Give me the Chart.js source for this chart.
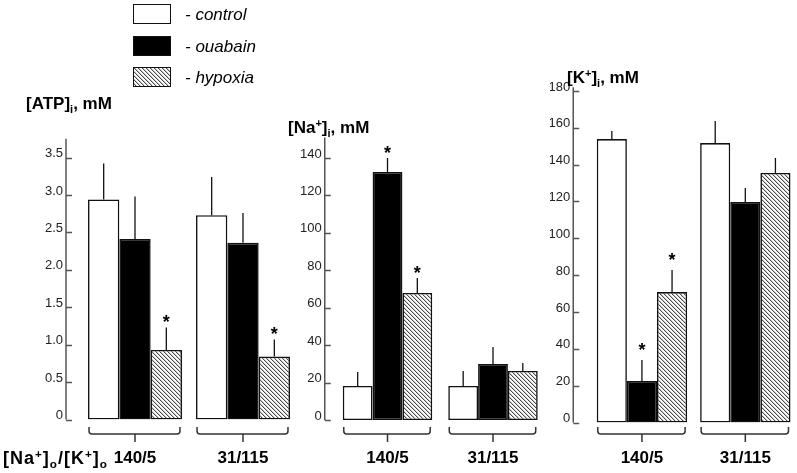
<!DOCTYPE html>
<html>
<head>
  <title>ATP, Na and K under ouabain and hypoxia</title>
  <script src="https://cdn.jsdelivr.net/npm/chart.js"></script>
  <style>
    body { margin: 0; background: #fff; font-family: "Liberation Sans", Arial, sans-serif; }
    #wrap { position: relative; width: 797px; height: 473px; overflow: hidden; }
    canvas { position: absolute; top: 0; }
    .txt { position: absolute; white-space: nowrap; line-height: 20px; color: #000; }
    .ttl { font-weight: bold; font-size: 17px; }
    .leg { font-style: italic; font-size: 17px; }
    .box { position: absolute; width: 36px; height: 18px; border: 1.5px solid #111; background: #fff; }
    .sub { font-size: 0.65em; position: relative; top: 0.35em; }
    .sup { font-size: 0.65em; position: relative; top: -0.55em; }
  </style>
</head>
<body>
<div id="wrap">
  <canvas id="atp" width="300" height="473" style="left:0px"></canvas>
  <canvas id="na" width="250" height="473" style="left:300px"></canvas>
  <canvas id="k" width="247" height="473" style="left:550px"></canvas>

  <!-- legend -->
  <div class="box" style="left:133px;top:4px"></div>
  <div class="box" style="left:133px;top:36px;background:#000"></div>
  <div class="box" id="hatchBox" style="left:133px;top:67px"></div>
  <div class="txt leg" style="left:185px;top:5px">- control</div>
  <div class="txt leg" style="left:185px;top:37px">- ouabain</div>
  <div class="txt leg" style="left:185px;top:68px">- hypoxia</div>

  <!-- axis titles -->
  <div class="txt ttl" style="left:26px;top:94px">[ATP]<span class="sub">i</span>, mM</div>
  <div class="txt ttl" style="left:288px;top:118px">[Na<span class="sup">+</span>]<span class="sub">i</span>, mM</div>
  <div class="txt ttl" style="left:567px;top:68px">[K<span class="sup">+</span>]<span class="sub">i</span>, mM</div>
  <div class="txt ttl" style="left:3px;top:448px;font-size:18px;letter-spacing:1px">[Na<span class="sup">+</span>]<span class="sub">o</span>/[K<span class="sup">+</span>]<span class="sub">o</span></div>
</div>

<script>
// groups: external [Na+]o/[K+]o
const groups = ['140/5', '31/115'];
const seriesNames = ['control', 'ouabain', 'hypoxia'];

// [ATP]i, mM
const atpControl = [2.94, 2.73];
const atpOuabain = [2.41, 2.36];
const atpHypoxia = [0.93, 0.84];
const atpControlErr = [0.48, 0.51];
const atpOuabainErr = [0.57, 0.40];
const atpHypoxiaErr = [0.30, 0.23];
const atpTicks = [0, 0.5, 1.0, 1.5, 2.0, 2.5, 3.0, 3.5];

// [Na+]i, mM
const naControl = [18.2, 18.2];
const naOuabain = [132.5, 29.9];
const naHypoxia = [67.9, 26.2];
const naControlErr = [7.5, 8.0];
const naOuabainErr = [7.5, 9.1];
const naHypoxiaErr = [8.0, 4.3];
const naTicks = [0, 20, 40, 60, 80, 100, 120, 140];

// [K+]i, mM
const kControl = [153.9, 151.7];
const kOuabain = [22.5, 119.7];
const kHypoxia = [70.8, 135.5];
const kControlErr = [4.4, 12.0];
const kOuabainErr = [11.4, 7.6];
const kHypoxiaErr = [12.0, 8.1];
const kTicks = [0, 20, 40, 60, 80, 100, 120, 140, 160, 180];

// significance marks (*)
const atpStars = [[false, false], [false, false], [true, true]];
const naStars = [[false, false], [true, false], [true, false]];
const kStars = [[false, false], [true, false], [true, false]];

// hatch pattern for hypoxia
const tile = document.createElement('canvas');
tile.width = 4; tile.height = 4;
const tctx = tile.getContext('2d');
for (let x = 0; x < 4; x++) {
  for (let y = 0; y < 4; y++) {
    const d = (x - y + 8) % 4;
    tctx.fillStyle = d === 0 ? '#4a4a4a' : (d === 1 ? '#c8c8c8' : '#ffffff');
    tctx.fillRect(x, y, 1, 1);
  }
}
document.getElementById('hatchBox').style.backgroundImage = 'url(' + tile.toDataURL() + ')';

const panels = {
  atp: { left: 0, width: 300, plotLeft: 81, plotRight: 297, top: 138.8, zero: 419.5, max: 3.75,
         cat: 0.87, axisGap: 15, tickPad: 18, starGap: 10,
         values: [atpControl, atpOuabain, atpHypoxia], errs: [atpControlErr, atpOuabainErr, atpHypoxiaErr],
         stars: atpStars, ticks: atpTicks, decimals: 1 },
  na:  { left: 300, width: 250, plotLeft: 334.75, plotRight: 545.75, top: 137.4, zero: 420, max: 151,
         cat: 0.848, axisGap: 10, tickPad: 13, starGap: 9,
         values: [naControl, naOuabain, naHypoxia], errs: [naControlErr, naOuabainErr, naHypoxiaErr],
         stars: naStars, ticks: naTicks, decimals: 0 },
  k:   { left: 550, width: 247, plotLeft: 590.25, plotRight: 797, top: 87.3, zero: 422.5, max: 182,
         cat: 0.874, axisGap: 17, tickPad: 20, starGap: 14,
         values: [kControl, kOuabain, kHypoxia], errs: [kControlErr, kOuabainErr, kHypoxiaErr],
         stars: kStars, ticks: kTicks, decimals: 0 }
};

const labelY = 458;
const brace = { top: 427, mid: 434, tip: 442, r: 3 };

// axis line, error bars, asterisks and group braces
const extras = {
  id: 'extras',
  afterDatasetsDraw(chart) {
    const p = panels[chart.canvas.id];
    const ctx = chart.ctx;
    const yS = chart.scales.y;
    const area = chart.chartArea;
    ctx.save();

    // y axis line with inward ticks
    const ax = area.left - p.axisGap;
    ctx.strokeStyle = '#555';
    ctx.lineWidth = 1.5;
    ctx.beginPath();
    ctx.moveTo(ax, area.top);
    ctx.lineTo(ax, yS.getPixelForValue(0));
    yS.ticks.forEach(t => {
      const py = Math.round(yS.getPixelForValue(t.value)) + 0.5;
      ctx.moveTo(ax, py);
      ctx.lineTo(ax + 6, py);
    });
    ctx.stroke();

    // error bars + stars
    ctx.strokeStyle = '#111';
    ctx.lineWidth = 1.3;
    ctx.fillStyle = '#000';
    ctx.font = 'bold 18px "Liberation Sans", Arial, sans-serif';
    ctx.textAlign = 'center';
    ctx.textBaseline = 'alphabetic';
    chart.data.datasets.forEach((ds, di) => {
      const meta = chart.getDatasetMeta(di);
      meta.data.forEach((bar, i) => {
        const top = yS.getPixelForValue(p.values[di][i] + p.errs[di][i]);
        ctx.beginPath();
        ctx.moveTo(bar.x, bar.y);
        ctx.lineTo(bar.x, top);
        ctx.stroke();
        if (p.stars[di][i]) ctx.fillText('*', bar.x, top - p.starGap + 10.3);
      });
    });

    // braces under each group
    ctx.strokeStyle = '#333';
    ctx.lineWidth = 1.5;
    groups.forEach((g, i) => {
      let l = Infinity, r = -Infinity;
      chart.data.datasets.forEach((ds, di) => {
        const b = chart.getDatasetMeta(di).data[i];
        l = Math.min(l, b.x - b.width / 2);
        r = Math.max(r, b.x + b.width / 2);
      });
      const x1 = l + 1, x2 = r - 2, cx = (l + r) / 2;
      ctx.beginPath();
      ctx.moveTo(x1, brace.top);
      ctx.lineTo(x1, brace.mid - brace.r);
      ctx.quadraticCurveTo(x1, brace.mid, x1 + brace.r, brace.mid);
      ctx.lineTo(x2 - brace.r, brace.mid);
      ctx.quadraticCurveTo(x2, brace.mid, x2, brace.mid - brace.r);
      ctx.lineTo(x2, brace.top);
      ctx.moveTo(cx, brace.mid);
      ctx.lineTo(cx, brace.tip);
      ctx.stroke();
    });
    ctx.restore();
  }
};

function makeChart(id) {
  const p = panels[id];
  const canvas = document.getElementById(id);
  const pattern = canvas.getContext('2d').createPattern(tile, 'repeat');
  const fills = ['#ffffff', '#000000', pattern];
  new Chart(canvas, {
    type: 'bar',
    data: {
      labels: groups,
      datasets: seriesNames.map((name, di) => ({
        label: name,
        data: p.values[di],
        backgroundColor: fills[di],
        borderColor: '#111',
        borderWidth: 1.6,
        borderSkipped: false,
        barPercentage: 1.0,
        categoryPercentage: p.cat
      }))
    },
    options: {
      responsive: false,
      animation: false,
      events: [],
      layout: { padding: { left: 0, right: p.left + p.width - p.plotRight, top: p.top, bottom: 0 } },
      plugins: { legend: { display: false }, tooltip: { enabled: false } },
      scales: {
        x: {
          type: 'category',
          offset: true,
          grid: { display: false, drawTicks: false },
          border: { display: false },
          ticks: {
            color: '#000',
            font: { family: '"Liberation Sans", Arial, sans-serif', size: 17, weight: 'bold' },
            padding: labelY - p.zero - 10.2,
            maxRotation: 0,
            autoSkip: false
          },
          afterFit: s => { s.height = 473 - p.zero; }
        },
        y: {
          min: 0,
          max: p.max,
          grid: { display: false, drawTicks: false },
          border: { display: false },
          afterBuildTicks: s => { s.ticks = p.ticks.map(v => ({ value: v })); },
          afterFit: s => { s.width = p.plotLeft - p.left; },
          ticks: {
            autoSkip: false,
            color: '#222',
            font: { family: '"Liberation Sans", Arial, sans-serif', size: 13 },
            padding: p.tickPad,
            labelOffset: -4,
            callback: v => (v === 0 ? '0' : v.toFixed(p.decimals))
          }
        }
      }
    },
    plugins: [extras]
  });
}

['atp', 'na', 'k'].forEach(makeChart);
</script>
</body>
</html>
